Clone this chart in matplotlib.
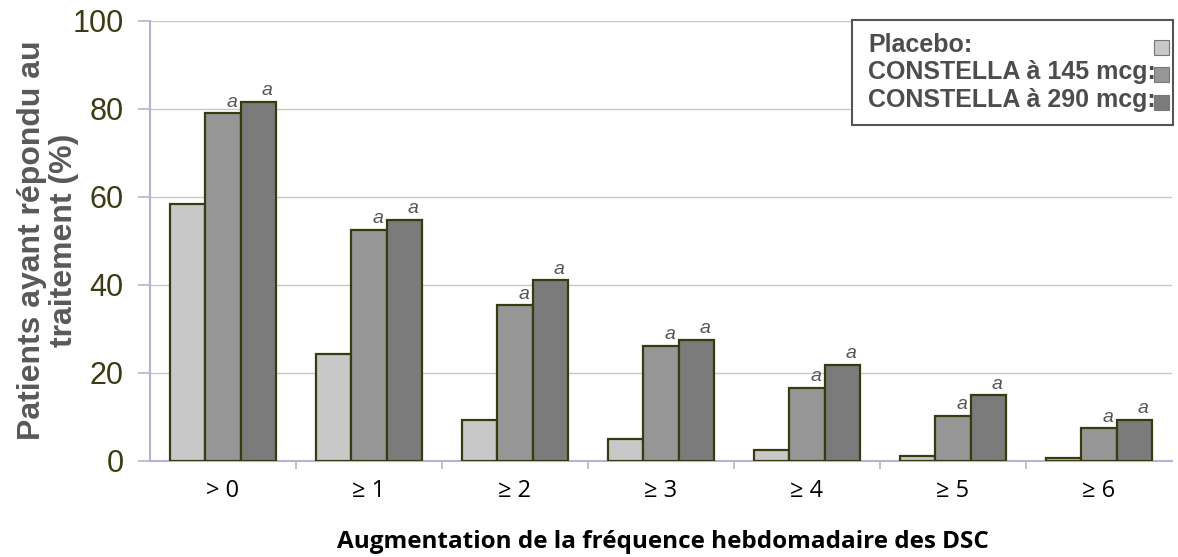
import matplotlib
matplotlib.use("Agg")
import matplotlib.pyplot as plt
import numpy as np
from matplotlib.patches import Rectangle

categories = ["> 0", "≥ 1", "≥ 2", "≥ 3", "≥ 4", "≥ 5", "≥ 6"]
placebo = [58.3, 24.3, 9.4, 5.1, 2.5, 1.1, 0.7]
dose145 = [79.0, 52.6, 35.4, 26.2, 16.7, 10.2, 7.4]
dose290 = [81.7, 54.8, 41.1, 27.6, 21.8, 14.9, 9.4]
series_names = ["Placebo:", "CONSTELLA à 145 mcg:", "CONSTELLA à 290 mcg:"]
colors = ["#c8c8c8", "#969696", "#7b7b7b"]
edge = "#3a3a12"
spine_col = "#b4b4d2"

W, H = 1178, 557
fig = plt.figure(figsize=(W/100, H/100), dpi=100)
ax = fig.add_axes([150/W, 1-461/H, (1172-150)/W, (461-21)/H])

def px(x, y):
    return (x/W, 1-y/H)

x = np.arange(len(categories))
w = 0.24
for i, (vals, col) in enumerate(zip([placebo, dose145, dose290], colors)):
    ax.bar(x + (i-1)*w, vals, width=w, color=col, edgecolor=edge, linewidth=1.6, zorder=3)
    if i > 0:
        for xi, v in zip(x, vals):
            ax.text(xi + (i-1)*w + 0.06, v + 0.6, "a", ha="center", va="bottom",
                    fontsize=14, style="italic", color="#555555", family="Liberation Sans", zorder=4)

ax.set_xlim(-0.5, len(categories)-0.5)
ax.set_ylim(0, 100)
ax.set_yticks([0, 20, 40, 60, 80, 100])
ax.yaxis.grid(True, color="#c8c8c8", linewidth=1.0, zorder=0)
ax.set_axisbelow(True)
for s in ["top", "right"]:
    ax.spines[s].set_visible(False)
for s in ["left", "bottom"]:
    ax.spines[s].set_color(spine_col)
    ax.spines[s].set_linewidth(1.5)
ax.tick_params(axis="y", direction="out", length=9, width=1.2, color=spine_col,
               labelsize=22, labelcolor="#3b3b14", pad=10)
for lab in ax.get_yticklabels():
    lab.set_family("Liberation Sans")

ax.set_xticks(x)
ax.set_xticklabels(categories, fontsize=17, family="Open Sans", color="black")
ax.tick_params(axis="x", which="major", length=0, pad=13)
ax.set_xticks(np.arange(0.5, len(categories)-0.5, 1), minor=True)
ax.tick_params(axis="x", which="minor", direction="out", length=6, width=1.2, color=spine_col)

fig.text(*px(48, 240), "Patients ayant répondu au\ntraitement (%)", rotation=90,
         ha="center", va="center", fontsize=23, fontweight="bold", color="#595959",
         family="Liberation Sans", linespacing=1.05, multialignment="center")
fig.text(*px(663, 542), "Augmentation de la fréquence hebdomadaire des DSC",
         ha="center", va="center", fontsize=17.5, fontweight="bold", family="Open Sans")

# legend box
x0, y0 = px(852, 125)
x1, y1 = px(1173, 20)
fig.patches.append(Rectangle((x0, y0), x1-x0, y1-y0, transform=fig.transFigure,
                             facecolor="white", edgecolor="#555555", linewidth=1.5, zorder=5))
baselines = [52, 79, 107]
sq_centers = [47, 74, 103]
for name, col, b, sc in zip(series_names, colors, baselines, sq_centers):
    fig.text(*px(868, b), name, ha="left", va="baseline", fontsize=18, fontweight="bold",
             color="#4d4d4d", family="Liberation Sans", zorder=6)
    sx, sy = px(1154, sc + 7.5)
    fig.patches.append(Rectangle((sx, sy), 15/W, 15/H, transform=fig.transFigure,
                                 facecolor=col, edgecolor="#777777", linewidth=0.8, zorder=6))

fig.savefig("out.png", dpi=100)
